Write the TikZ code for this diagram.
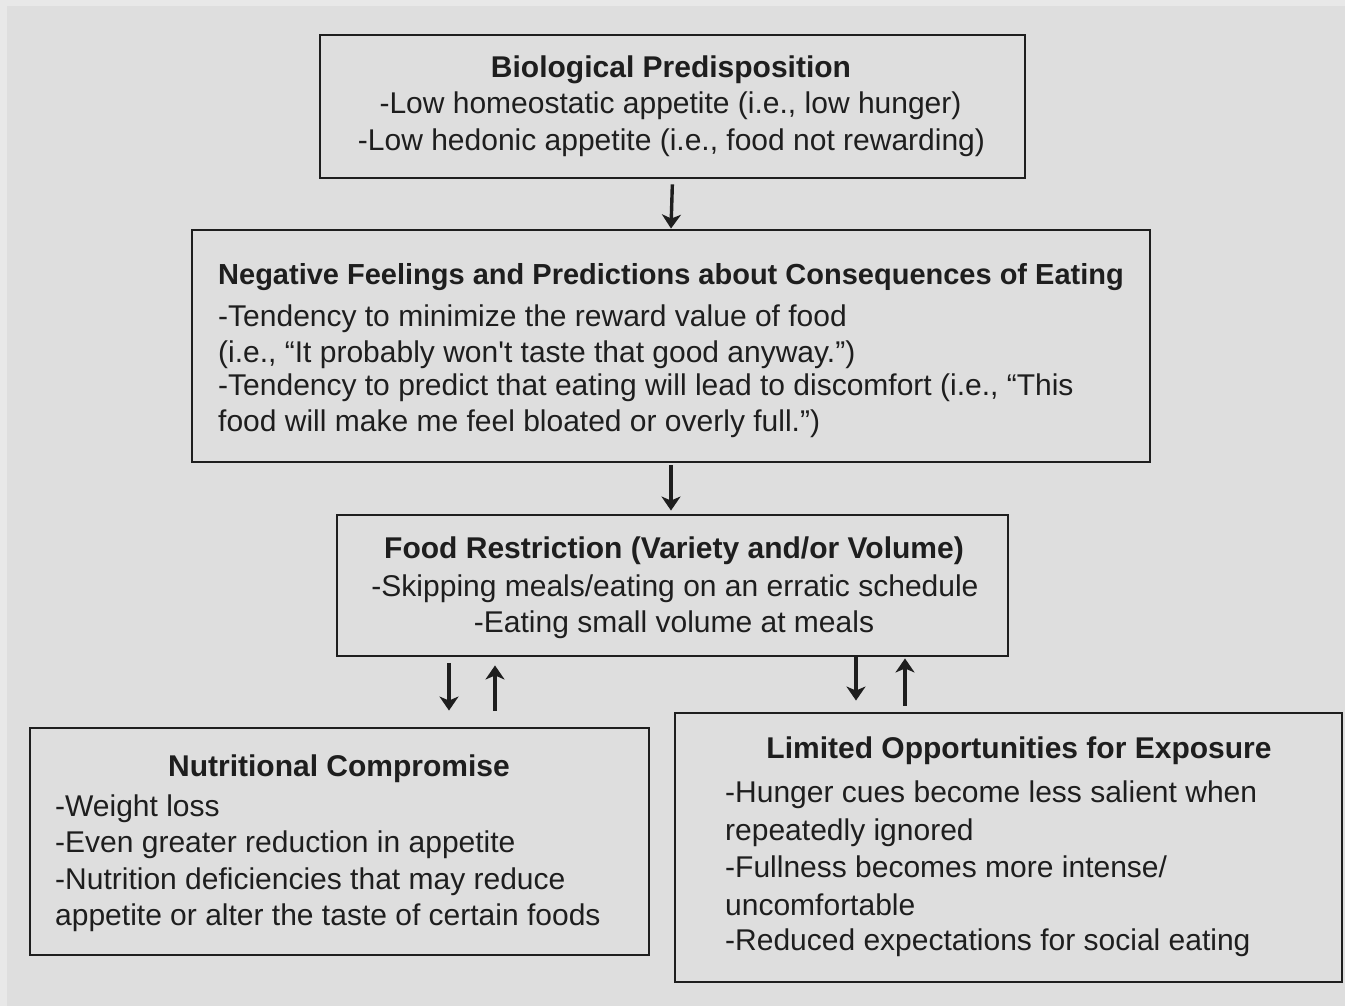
\documentclass[tikz,border=0pt]{standalone}
\usepackage{fontspec}
\setmainfont{Liberation Sans}
\usetikzlibrary{arrows.meta}
\definecolor{pagebg}{HTML}{E8E8E8}
\definecolor{panelbg}{HTML}{DEDEDE}
\definecolor{ink}{HTML}{1E1E1E}
\begin{document}
\begin{tikzpicture}[x=1pt,y=-1pt,
  box/.style={draw=ink, line width=2.9pt, inner sep=0pt},
  txt/.style={font=\fontsize{30}{36}\selectfont, text=ink, inner sep=0pt},
  head/.style={txt, font=\fontsize{30}{36}\selectfont\bfseries},
  arr/.style={draw=ink, line width=3.4pt, -{Stealth[length=14pt,width=19pt,inset=4pt]}}]
% page and panel
\fill[pagebg] (0,0) rectangle (1345,1006);
\fill[panelbg] (7,6) rectangle (1345,1006);
\useasboundingbox (0,0) rectangle (1345,1006);

% boxes
\node[box, minimum width=705pt, minimum height=143pt] (bio)  at (672.5,106.5) {};
\node[box, minimum width=958pt, minimum height=232pt] (neg)  at (671,346) {};
\node[box, minimum width=671pt, minimum height=141pt] (food) at (672.5,585.5) {};
\node[box, minimum width=619pt, minimum height=227pt] (nut)  at (339.5,841.5) {};
\node[box, minimum width=667pt, minimum height=269pt] (lim)  at (1008.5,847.5) {};

% Biological Predisposition
\node[head, anchor=base] (bioT) at (671,78) {Biological Predisposition};
\node[txt, anchor=base] (bio1) at (670.5,114) {-Low homeostatic appetite (i.e., low hunger)};
\node[txt, anchor=base] (bio2) at (671.5,151) {-Low hedonic appetite (i.e., food not rewarding)};

% Negative feelings
\node[head, font=\fontsize{29}{36}\selectfont\bfseries, anchor=base west] (negT) at (218,284) {Negative Feelings and Predictions about Consequences of Eating};
\node[txt, anchor=base west] (neg1) at (218,326) {-Tendency to minimize the reward value of food};
\node[txt, anchor=base west] (neg2) at (218,362) {(i.e., “It probably won\textquotesingle t taste that good anyway.”)};
\node[txt, anchor=base west] (neg3) at (218,395) {-Tendency to predict that eating will lead to discomfort (i.e., “This};
\node[txt, anchor=base west] (neg4) at (218,431) {food will make me feel bloated or overly full.”)};

% Food restriction
\node[head, anchor=base] (foodT) at (674,558) {Food Restriction (Variety and/or Volume)};
\node[txt, anchor=base] (food1) at (675,596) {-Skipping meals/eating on an erratic schedule};
\node[txt, anchor=base] (food2) at (674,632) {-Eating small volume at meals};

% Nutritional compromise
\node[head, anchor=base] (nutT) at (339,776) {Nutritional Compromise};
\node[txt, anchor=base west] (nut1) at (55,816) {-Weight loss};
\node[txt, anchor=base west] (nut2) at (55,852) {-Even greater reduction in appetite};
\node[txt, anchor=base west] (nut3) at (55,889) {-Nutrition deficiencies that may reduce};
\node[txt, anchor=base west] (nut4) at (55,925) {appetite or alter the taste of certain foods};

% Limited opportunities
\node[head, anchor=base] (limT) at (1019,758) {Limited Opportunities for Exposure};
\node[txt, anchor=base west] (lim1) at (725,802) {-Hunger cues become less salient when};
\node[txt, anchor=base west] (lim2) at (725,840) {repeatedly ignored};
\node[txt, anchor=base west] (lim3) at (725,877) {-Fullness becomes more intense/};
\node[txt, anchor=base west] (lim4) at (725,915) {uncomfortable};
\node[txt, anchor=base west] (lim5) at (725,950) {-Reduced expectations for social eating};

% connectors
\draw[arr, shorten <=5pt] (bio.south) -- (neg.north);
\draw[arr, shorten <=2pt, shorten >=3pt] (neg.south) -- (neg.south |- food.north);

\coordinate (ld) at (449,0);
\coordinate (lu) at (495,0);
\coordinate (rd) at (856,0);
\coordinate (ru) at (905,0);
\draw[arr, shorten <=6pt, shorten >=16pt] (ld |- food.south) -- (ld |- nut.north);
\draw[arr, shorten <=16pt, shorten >=8pt] (lu |- nut.north) -- (lu |- food.south);
\draw[arr, shorten >=11pt] (rd |- food.south) -- (rd |- lim.north);
\draw[arr, shorten <=6pt, shorten >=1pt] (ru |- lim.north) -- (ru |- food.south);
\end{tikzpicture}
\end{document}
